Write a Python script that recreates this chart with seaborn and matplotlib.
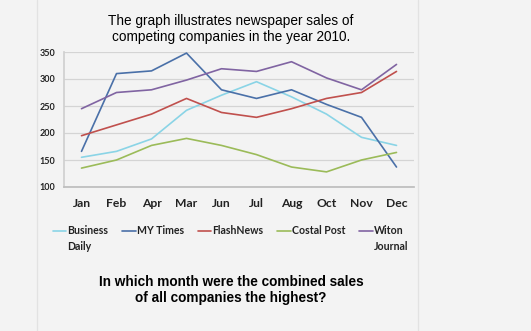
import matplotlib
matplotlib.use("Agg")
import matplotlib.pyplot as plt
from matplotlib.lines import Line2D
import seaborn as sns
import pandas as pd

months = ["Jan", "Feb", "Apr", "Mar", "Jun", "Jul", "Aug", "Oct", "Nov", "Dec"]
business_daily = [155, 166, 189, 242, 270, 295, 267, 235, 192, 177]
my_times = [166, 310, 315, 348, 280, 264, 280, 253, 229, 137]
flash_news = [195, 215, 235, 264, 238, 229, 245, 264, 275, 314]
costal_post = [135, 150, 177, 190, 177, 160, 137, 128, 150, 164]
witon_journal = [245, 275, 280, 298, 319, 314, 332, 302, 280, 327]

series_names = ["Business\nDaily", "MY Times\n", "FlashNews\n", "Costal Post\n", "Witon\nJournal"]
series_values = [business_daily, my_times, flash_news, costal_post, witon_journal]
colors = ["#8ad4e6", "#4a70a8", "#c0504d", "#9bbb59", "#8064a2"]

rows = []
for name, vals in zip(series_names, series_values):
    for m, v in zip(months, vals):
        rows.append({"month": m, "sales": v, "paper": name})
df = pd.DataFrame(rows)

sns.set_theme(style="white")
plt.rcParams["font.family"] = ["Liberation Sans", "DejaVu Sans"]

bg = "#f3f3f3"
fig = plt.figure(figsize=(5.31, 3.31), dpi=100, facecolor=bg)
ax = fig.add_axes([64 / 531, 1 - 187 / 331, 350 / 531, 135 / 331])
ax.set_facecolor(bg)

sns.lineplot(data=df, x="month", y="sales", hue="paper", hue_order=series_names,
             palette=colors, linewidth=1.2, ax=ax, legend=True, sort=False)

ax.set_xlim(-0.5, len(months) - 0.5)
ax.set_ylim(100, 350)
ax.set_yticks([100, 150, 200, 250, 300, 350])
ax.yaxis.grid(True, color="#d4d4d4", linewidth=0.9)
ax.set_axisbelow(True)
ax.set_xlabel("")
ax.set_ylabel("")

for s in ["top", "right"]:
    ax.spines[s].set_visible(False)
ax.spines["left"].set_color("#d0d0d0")
ax.spines["bottom"].set_color("#bdbdbd")

ax.set_xticks(range(len(months)))
ax.set_xticklabels(months, fontfamily="Lato", fontweight="bold", fontsize=8.7, color="#222222")
ax.set_xticks([i - 0.5 for i in range(len(months) + 1)], minor=True)
ax.tick_params(axis="x", which="major", length=0, pad=8)
ax.tick_params(axis="x", which="minor", length=3, color="#bdbdbd", width=0.8)
ax.tick_params(axis="y", which="major", length=3, color="#d0d0d0", pad=3)
for lbl in ax.get_yticklabels():
    lbl.set_fontfamily("Lato")
    lbl.set_fontweight("bold")
    lbl.set_fontsize(6.5)
    lbl.set_color("#222222")

handles, labels = ax.get_legend_handles_labels()
ax.get_legend().remove()
leg_size = 7.6
line_gap = 1.65
leg = fig.legend(handles, labels, loc="upper left", bbox_to_anchor=(43 / 531, 1 - 215 / 331),
                 ncol=5, frameon=False, handlelength=1.3, handletextpad=0.1,
                 columnspacing=1.3, prop={"family": "Lato", "weight": "bold", "size": leg_size})
for t in leg.get_texts():
    t.set_color("#222222")
    t.set_linespacing(line_gap)
# keep each legend swatch level with the first line of its label (offset in points)
for h in leg.legend_handles:
    h.set_linewidth(1.2)
    h.set_ydata([y + 6.0 for y in h.get_ydata()])

fig.text(231 / 531, 1 - 29 / 331, "The graph illustrates newspaper sales of\ncompeting companies in the year 2010.",
         ha="center", va="center", fontsize=9.8, color="#000000", linespacing=1.15)
fig.text(231 / 531, 1 - 290 / 331, "In which month were the combined sales\nof all companies the highest?",
         ha="center", va="center", fontsize=9.8, fontweight="bold", color="#000000", linespacing=1.2)

for xp in (37, 418):
    fig.add_artist(Line2D([xp / 531, xp / 531], [0, 1], transform=fig.transFigure,
                          color="#e2e2e2", linewidth=0.9))

fig.savefig("out.png", dpi=100, facecolor=bg)
